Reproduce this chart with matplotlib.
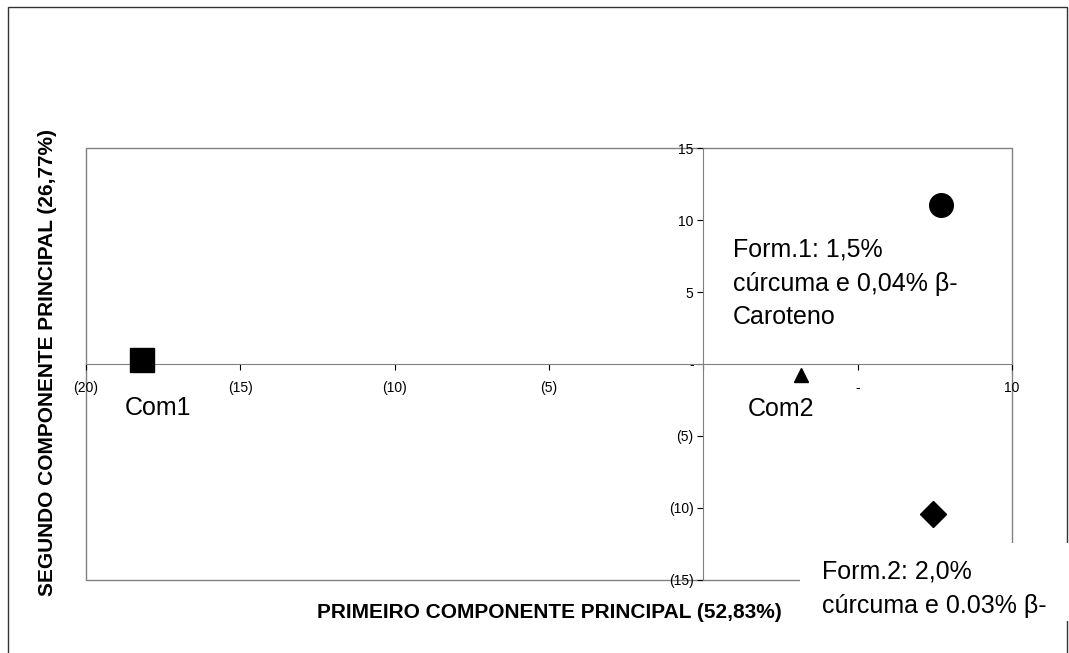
import matplotlib.pyplot as plt
from matplotlib.patches import Rectangle

plt.rcParams['font.family'] = ['Liberation Sans', 'DejaVu Sans']

# scores on the two principal components
names = ['Com1', 'Com2', 'Form1', 'Form2']
pc1 = [-18.2, 3.15, 7.7, 7.45]
pc2 = [0.25, -0.75, 11.05, -10.4]
markers = ['s', '^', 'o', 'D']
msizes = [17, 10, 17, 13]

xticks = [-20, -15, -10, -5, 0, 5, 10]
xticklabels = ['(20)', '(15)', '(10)', '(5)', '', '-', '10']
yticks = [-15, -10, -5, 0, 5, 10, 15]
yticklabels = ['(15)', '(10)', '(5)', '-', '5', '10', '15']

W, H = 1069, 653
fig = plt.figure(figsize=(W / 100, H / 100), dpi=100)

# outer chart border (open at the bottom)
fig.add_artist(Rectangle((8 / W, -0.1), (1067 - 8) / W, 1.1 - 7 / H,
                         transform=fig.transFigure, fill=False,
                         edgecolor='#333333', lw=1))

ax = fig.add_axes([86 / W, 1 - 580 / H, (1012 - 86) / W, (580 - 148) / H])
ax.set_xlim(-20, 10)
ax.set_ylim(-15, 15)

# plot area frame
ax.add_patch(Rectangle((0, 0), 1, 1, transform=ax.transAxes, fill=False,
                       edgecolor='#808080', lw=1, clip_on=False, zorder=1))

for s in ['top', 'right']:
    ax.spines[s].set_visible(False)
ax.spines['left'].set_position(('data', 0))
ax.spines['bottom'].set_position(('data', 0))
ax.spines['left'].set_color('#808080')
ax.spines['bottom'].set_color('#808080')

ax.set_xticks(xticks)
ax.set_xticklabels(xticklabels)
ax.set_yticks(yticks)
ax.set_yticklabels(yticklabels)
ax.tick_params(axis='x', direction='out', length=4, pad=8, labelsize=10)
ax.tick_params(axis='y', direction='out', length=4, pad=3, labelsize=10)

for x, y, m, ms in zip(pc1, pc2, markers, msizes):
    ax.plot(x, y, marker=m, markersize=ms, color='black', linestyle='none',
            clip_on=False, zorder=5)

ax.text(-18.73, -3.54, 'Com1', fontsize=18, va='baseline', ha='left')
ax.text(1.45, -3.61, 'Com2', fontsize=18, va='baseline', ha='left')
ax.text(0.96, 8.75, 'Form.1: 1,5%\ncúrcuma e 0,04% β-\nCaroteno',
        fontsize=18, va='top', ha='left', linespacing=1.5)

# white label box covering the corner
fig.add_artist(Rectangle((800 / W, 1 - 621 / H), 269 / W, 78 / H,
                         transform=fig.transFigure, facecolor='white',
                         edgecolor='none', zorder=2))
fig.text(822 / W, 1 - 560 / H, 'Form.2: 2,0%\ncúrcuma e 0.03% β-',
         fontsize=18, va='top', ha='left', linespacing=1.55, zorder=3)

fig.text(549 / W, 1 - 612 / H, 'PRIMEIRO COMPONENTE PRINCIPAL (52,83%)',
         fontsize=15, fontweight='bold', ha='center', va='center')
fig.text(48 / W, 1 - 363 / H, 'SEGUNDO COMPONENTE PRINCIPAL (26,77%)',
         fontsize=15, fontweight='bold', ha='center', va='center',
         rotation=90)

fig.savefig('out.png', dpi=100)
